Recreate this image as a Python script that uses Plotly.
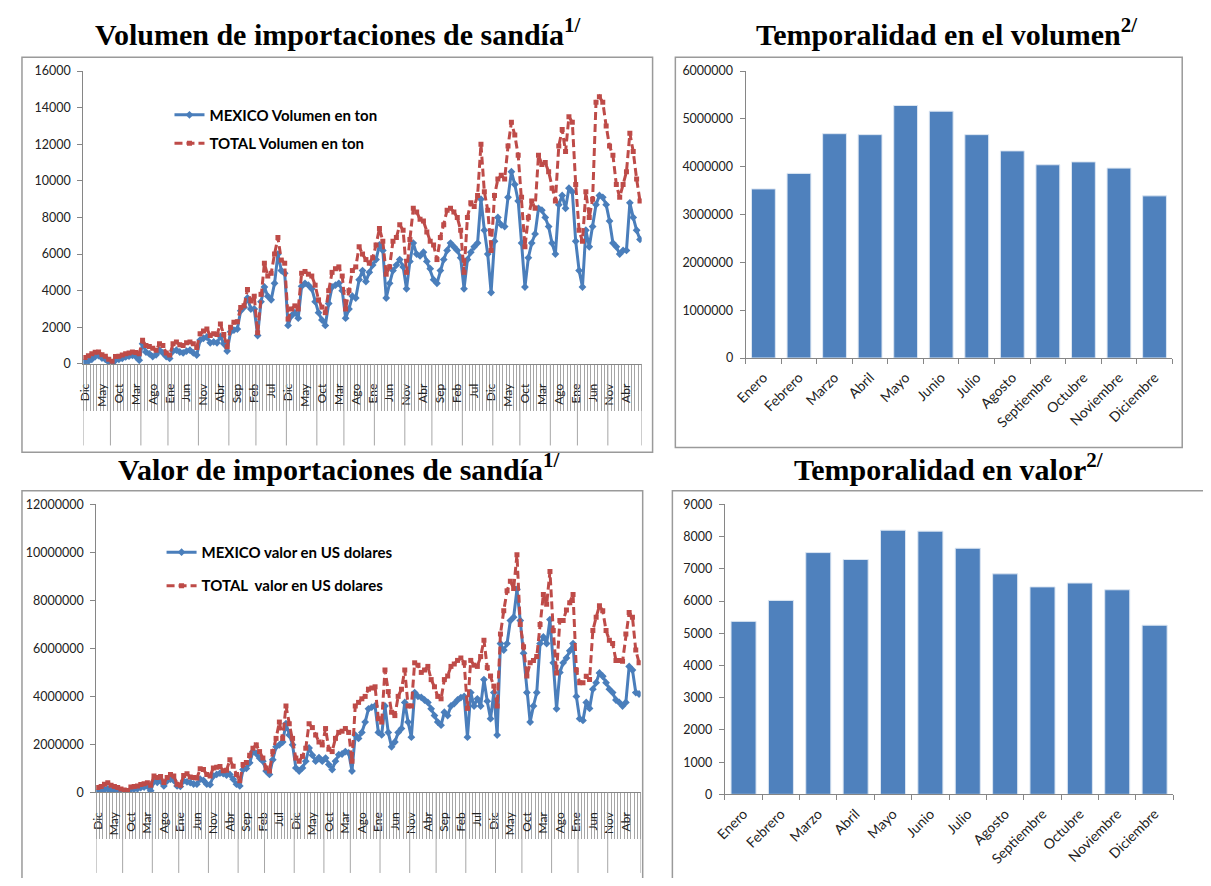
# Import Libraries
import plotly.graph_objects as go

# Window size in px; the page body keeps its default 8px margin,
# so the figure is made 16px smaller and every position is shifted by 8px
W, H = 1211, 886
PAD = 8
FIG_W, FIG_H = W - 2 * PAD, H - 2 * PAD

# Data: monthly imports, Dec (first) .. Aug (last), 165 months
vol_mexico = [120, 150, 250, 400, 450, 320, 250, 100, 30, 200,
              250, 300, 380, 420, 460, 400, 200, 1100, 650, 550,
              400, 500, 750, 600, 400, 300, 700, 750, 650, 600,
              700, 750, 600, 480, 1300, 1400, 1470, 1150, 1200, 1150,
              1500, 1100, 700, 1750, 1850, 1900, 2900, 3100, 3600, 3000,
              3000, 1550, 3400, 4200, 3700, 3500, 4400, 6000, 5100, 4950,
              2100, 2630, 2800, 2500, 4240, 4400, 4300, 4100, 3400, 2800,
              2400, 2100, 3300, 4200, 4300, 4400, 4000, 2500, 3000, 3700,
              3600, 4600, 5100, 4500, 5000, 5400, 5700, 6500, 6200, 3600,
              4400, 5100, 5400, 5700, 5300, 4100, 5600, 6600, 6000, 5900,
              6100, 5600, 5200, 4600, 4400, 5100, 5700, 6200, 6600, 6400,
              6200, 5800, 4100, 5700, 6100, 6400, 6600, 9000, 7300, 6000,
              3900, 6700, 8000, 7600, 7500, 9100, 10500, 9800, 8900, 6600,
              4200, 5800, 6600, 7100, 8500, 8400, 8000, 7500, 6600, 6000,
              8700, 9200, 8500, 9600, 9400, 6700, 5100, 4200, 7300, 6400,
              7500, 8700, 9200, 9100, 8700, 7800, 6600, 6400, 6000, 6200,
              6200, 8800, 8000, 7300, 6800]

vol_total = [350, 450, 560, 630, 650, 500, 420, 250, 150, 400,
             420, 480, 560, 600, 650, 620, 550, 1290, 1000, 950,
             850, 750, 1100, 1000, 600, 480, 1100, 1200, 1050, 1000,
             1150, 1200, 1100, 900, 1650, 1800, 1900, 1550, 1650, 1600,
             2180, 1600, 930, 2000, 2270, 2300, 3080, 3170, 4060, 3430,
             3700, 1700, 3800, 5500, 4800, 4950, 6000, 6900, 5670, 5500,
             2450, 3000, 3170, 3000, 4950, 5050, 4900, 4800, 4300, 3500,
             3100, 2800, 4000, 5000, 5200, 5300, 4800, 3000, 4000, 5100,
             5300, 6400, 6000, 5700, 5500, 5800, 6500, 7400, 6700, 4900,
             5300, 6700, 6900, 7600, 7300, 5000, 6800, 8500, 8300, 7900,
             7800, 7200, 6700, 6500, 5700, 6900, 7600, 8400, 8500, 8300,
             8000, 7300, 5000, 8000, 8800, 8600, 9200, 12000, 9400, 8400,
             6200, 9200, 10100, 10300, 10100, 11900, 13200, 12500, 11400, 9100,
             6400, 8000, 8900, 8500, 11400, 10900, 11000, 10500, 9600, 8900,
             11900, 12800, 11600, 13500, 13200, 9800, 7300, 6700, 9400, 8000,
             9000, 14300, 14600, 14300, 13000, 11900, 11400, 9800, 9100, 9800,
             10500, 12600, 11600, 10100, 8900]

val_mexico = [20000, 50000, 120000, 140000, 80000, 70000, 60000, 30000, 20000, 10000,
              120000, 140000, 150000, 200000, 220000, 260000, 70000, 450000, 420000, 470000,
              270000, 480000, 550000, 500000, 270000, 250000, 480000, 440000, 410000, 350000,
              340000, 550000, 500000, 340000, 320000, 680000, 750000, 800000, 780000, 720000,
              750000, 550000, 340000, 270000, 950000, 1000000, 1230000, 1700000, 1620000, 1430000,
              1300000, 890000, 750000, 1360000, 1900000, 1980000, 2100000, 2860000, 2390000, 1980000,
              1020000, 890000, 1020000, 1300000, 1850000, 1550000, 1300000, 1450000, 1300000, 1430000,
              1160000, 950000, 1300000, 1570000, 1600000, 1700000, 1650000, 890000, 2390000, 2250000,
              2500000, 2930000, 3480000, 3550000, 3600000, 2500000, 2400000, 3600000, 2500000, 1900000,
              2100000, 2500000, 2660000, 3750000, 2930000, 2300000, 4160000, 4000000, 3960000, 3850000,
              3750000, 3480000, 3200000, 2930000, 2800000, 3340000, 3200000, 3600000, 3700000, 3850000,
              3950000, 4000000, 2300000, 4160000, 3600000, 3900000, 3600000, 4700000, 3800000, 3070000,
              4160000, 2390000, 6200000, 5930000, 6200000, 7160000, 7300000, 8460000, 7160000, 5800000,
              4160000, 2930000, 3600000, 4160000, 6200000, 6480000, 6200000, 7200000, 5400000, 3480000,
              5000000, 5400000, 5600000, 5900000, 6200000, 4000000, 3070000, 3000000, 3750000, 3500000,
              4300000, 4570000, 4980000, 4840000, 4570000, 4300000, 4160000, 3850000, 3750000, 3600000,
              3750000, 5250000, 5100000, 4160000, 4100000]

val_total = [200000, 250000, 340000, 400000, 300000, 240000, 200000, 140000, 100000, 80000,
             220000, 250000, 270000, 330000, 360000, 400000, 300000, 680000, 620000, 660000,
             410000, 620000, 740000, 680000, 340000, 300000, 700000, 780000, 640000, 620000,
             600000, 980000, 950000, 740000, 680000, 1020000, 1050000, 1080000, 900000, 920000,
             1360000, 1090000, 750000, 480000, 1160000, 1250000, 1550000, 1840000, 1980000, 1700000,
             1430000, 1020000, 890000, 1700000, 2250000, 2930000, 2250000, 3600000, 2860000, 2250000,
             1430000, 1300000, 1500000, 1840000, 2860000, 2700000, 2390000, 2100000, 1980000, 2660000,
             1800000, 1700000, 2250000, 2500000, 2550000, 2660000, 2500000, 1300000, 3600000, 3750000,
             3900000, 4000000, 4300000, 4350000, 4400000, 3070000, 2930000, 5100000, 4200000, 3340000,
             3200000, 4000000, 4300000, 5100000, 3600000, 3600000, 5400000, 5300000, 5000000, 5100000,
             5250000, 4700000, 4400000, 4000000, 3900000, 4700000, 4850000, 5250000, 5350000, 5500000,
             5600000, 5400000, 3500000, 5500000, 5300000, 5250000, 5660000, 6340000, 5200000, 4850000,
             4430000, 3600000, 6600000, 7570000, 8400000, 8800000, 8500000, 9900000, 7000000, 6070000,
             4850000, 5400000, 5500000, 5660000, 7000000, 8250000, 7840000, 9200000, 6750000, 4980000,
             7160000, 7160000, 7600000, 7900000, 8250000, 5100000, 4570000, 4570000, 4840000, 4700000,
             6750000, 7300000, 7780000, 7570000, 6750000, 6340000, 6200000, 5500000, 5500000, 5460000,
             6600000, 7500000, 7300000, 5930000, 5400000]

# Tick labels shown every 5 months, starting Dic
etiquetas_mes = ['Dic', 'May', 'Oct', 'Mar', 'Ago', 'Ene', 'Jun', 'Nov', 'Abr', 'Sep', 'Feb',
                 'Jul', 'Dic', 'May', 'Oct', 'Mar', 'Ago', 'Ene', 'Jun', 'Nov', 'Abr', 'Sep',
                 'Feb', 'Jul', 'Dic', 'May', 'Oct', 'Mar', 'Ago', 'Ene', 'Jun', 'Nov', 'Abr']

# First month of each group on the second level of the category axis
inicio_grupos = [0, 8, 17, 25, 34, 43, 51, 60, 69, 77, 86, 95, 103, 112, 121, 129, 138, 146, 155, 165]

# Seasonality
meses = ['Enero', 'Febrero', 'Marzo', 'Abril', 'Mayo', 'Junio', 'Julio', 'Agosto',
         'Septiembre', 'Octubre', 'Noviembre', 'Diciembre']
temp_volumen = [3535000, 3860000, 4690000, 4670000, 5280000, 5160000,
                4670000, 4330000, 4040000, 4100000, 3970000, 3390000]
temp_valor = [5370, 6020, 7505, 7290, 8200, 8170, 7640, 6845, 6440, 6560, 6350, 5250]

# Styles
BLUE = '#4A7EBB'
RED = '#BE4B48'
BAR = '#4F81BD'
AXIS = '#868686'
FONT = 'Lato'


def px(x):
    # window pixel -> paper fraction
    return (x - PAD) / FIG_W


def py(y):
    return 1 - (y - PAD) / FIG_H


n = len(vol_mexico)
idx = list(range(n))

fig = go.Figure()

# Line charts
mex_line = dict(color=BLUE, width=3)
tot_line = dict(color=RED, width=3, dash='8px,4px')
fig.add_trace(go.Scatter(x=idx, y=vol_mexico, name='MEXICO Volumen en ton', mode='lines+markers',
                         line=mex_line, marker=dict(symbol='diamond', size=6),
                         xaxis='x', yaxis='y', legend='legend', legendgroup='a'))
fig.add_trace(go.Scatter(x=idx, y=vol_total, name='TOTAL Volumen en ton', mode='lines+markers',
                         line=tot_line, marker=dict(symbol='square', size=5),
                         xaxis='x', yaxis='y', legend='legend', legendgroup='b'))
fig.add_trace(go.Scatter(x=idx, y=val_mexico, name='MEXICO valor en US dolares', mode='lines+markers',
                         line=mex_line, marker=dict(symbol='diamond', size=6),
                         xaxis='x3', yaxis='y3', legend='legend2', legendgroup='c'))
fig.add_trace(go.Scatter(x=idx, y=val_total, name='TOTAL  valor en US dolares', mode='lines+markers',
                         line=tot_line, marker=dict(symbol='square', size=5),
                         xaxis='x3', yaxis='y3', legend='legend2', legendgroup='d'))

# Bar charts
fig.add_trace(go.Bar(x=meses, y=temp_volumen, marker=dict(color=BAR, line=dict(color='#dce6f2', width=1)),
                     xaxis='x2', yaxis='y2', showlegend=False))
fig.add_trace(go.Bar(x=meses, y=temp_valor, marker=dict(color=BAR, line=dict(color='#dce6f2', width=1)),
                     xaxis='x4', yaxis='y4', showlegend=False))

tick_font = dict(family=FONT, size=12.5, color='#222')
line_x = dict(type='linear', range=[-0.5, n - 0.5], showline=True, linecolor=AXIS, linewidth=1,
              showgrid=False, zeroline=False, tickmode='array', tickvals=idx[::5], ticktext=etiquetas_mes,
              tickangle=-90, ticks='', ticklabelstandoff=14, tickfont=dict(family=FONT, size=12, color='#222'),
              minor=dict(ticks='outside', ticklen=46, tickcolor='#a6a6a6', tickwidth=1,
                         tickmode='linear', tick0=-0.5, dtick=1, showgrid=False))
y_common = dict(showline=True, linecolor=AXIS, linewidth=1, showgrid=False, zeroline=False,
                ticks='outside', ticklen=5, tickcolor=AXIS, tickformat='d', tickfont=tick_font,
                ticklabelstandoff=4)
bar_x = dict(showline=True, linecolor=AXIS, linewidth=1, ticks='outside', ticklen=5, tickcolor=AXIS,
             tickson='boundaries', tickangle=-45, ticklabelstandoff=5,
             tickfont=dict(family=FONT, size=14, color='#222'))

fig.update_layout(
    width=FIG_W, height=FIG_H, margin=dict(l=0, r=0, t=0, b=0),
    paper_bgcolor='white', plot_bgcolor='white', bargap=0.33,
    xaxis=dict(line_x, domain=[px(72), px(636)], anchor='y'),
    yaxis=dict(y_common, domain=[py(362), py(64)], range=[0, 16000], dtick=2000, anchor='x'),
    xaxis2=dict(bar_x, domain=[px(741), px(1172)], anchor='y2'),
    yaxis2=dict(y_common, domain=[py(356), py(64)], range=[0, 6000000], dtick=1000000, anchor='x2'),
    xaxis3=dict(line_x, domain=[px(85), px(635)], anchor='y3'),
    yaxis3=dict(y_common, domain=[py(798), py(505)], range=[0, 12000000], dtick=2000000, anchor='x3'),
    xaxis4=dict(bar_x, domain=[px(720), px(1173)], anchor='y4'),
    yaxis4=dict(y_common, domain=[py(800), py(505)], range=[0, 9000], dtick=1000, anchor='x4'),
    legend=dict(x=px(159), y=py(92), xanchor='left', yanchor='top', bgcolor='rgba(0,0,0,0)',
                font=dict(family=FONT, size=15, color='black', weight='bold'), tracegroupgap=6),
    legend2=dict(x=px(151), y=py(537), xanchor='left', yanchor='top', bgcolor='rgba(0,0,0,0)',
                 font=dict(family=FONT, size=15, color='black', weight='bold'), tracegroupgap=11),
)

# Chart frames
shapes = []
for x0, y0, x1, y1 in [(10, 50, 647, 452), (670, 50, 1182, 447), (10, 491, 637, 890), (667, 491, 1207, 890)]:
    shapes.append(dict(type='rect', xref='paper', yref='paper', x0=px(x0), x1=px(x1), y0=py(y1), y1=py(y0),
                       line=dict(color='#9a9a9a', width=1.5), fillcolor='rgba(0,0,0,0)', layer='below'))

# Second level separators of the category axes
for xr, top, bottom in [('x', 362, 445), ('x3', 798, 880)]:
    for g in inicio_grupos:
        shapes.append(dict(type='line', xref=xr, yref='paper', x0=g - 0.5, x1=g - 0.5,
                           y0=py(bottom), y1=py(top), line=dict(color='#a6a6a6', width=1)))
fig.update_layout(shapes=shapes)

# Titles
title_font = dict(family='Liberation Serif', size=30, color='black')
for text, x, y in [('Volumen de importaciones de sandía<sup>1/</sup>', 329, 24),
                   ('Temporalidad en el volumen<sup>2/</sup>', 944, 24),
                   ('Valor de importaciones de sandía<sup>1/</sup>', 331, 467),
                   ('Temporalidad en valor<sup>2/</sup>', 946, 467)]:
    fig.add_annotation(text='<b>' + text + '</b>', x=px(x), y=py(y), xref='paper', yref='paper',
                       xanchor='center', yanchor='middle', showarrow=False, font=title_font)

fig.write_html("out.html", config={'displayModeBar': False})
